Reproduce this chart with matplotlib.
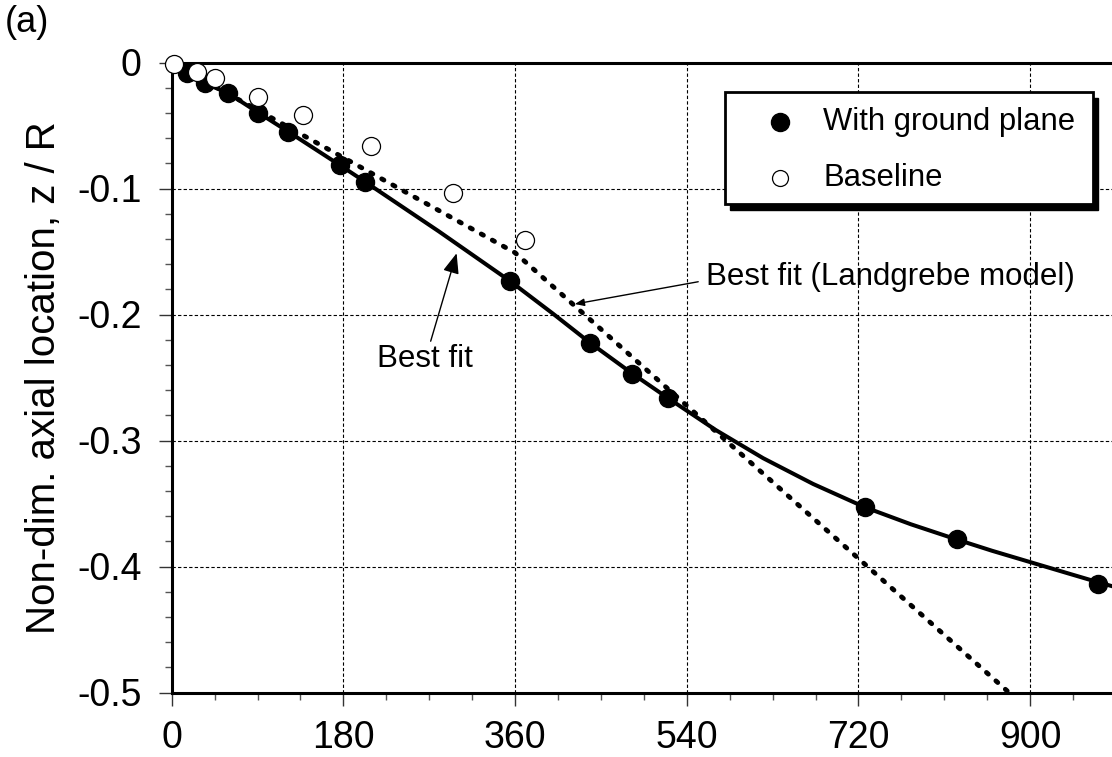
import matplotlib
matplotlib.use("Agg")
import matplotlib.pyplot as plt
from matplotlib.patches import Rectangle
from matplotlib.ticker import MultipleLocator

plt.rcParams['font.family'] = ['Liberation Sans', 'DejaVu Sans']

# measured tip vortex axial location vs wake age
ground_x = [15.7, 34.9, 59.3, 90.8, 122.2, 176.4, 202.6, 354.6, 438.5, 482.2, 520.6, 726.8, 822.8, 971.3]
ground_y = [-0.0086, -0.0165, -0.0244, -0.0398, -0.0549, -0.0815, -0.0946, -0.1734, -0.2224, -0.2472,
            -0.2665, -0.353, -0.378, -0.414]

base_x = [2.4, 26.2, 45.4, 90.1, 137.3, 208.6, 295.2, 370.3]
base_y = [-0.0014, -0.0078, -0.0125, -0.0271, -0.0417, -0.0663, -0.1033, -0.1409]

# curve fits
fit_x = [0, 15.7, 34.9, 59.3, 90.8, 122.2, 176.4, 202.6, 280, 354.6, 400, 438.5, 482.2, 520.6, 570,
         620, 672.5, 726.8, 775, 822.8, 860, 900, 940, 971.3, 990]
fit_y = [0, -0.0086, -0.0165, -0.0244, -0.0398, -0.0549, -0.0815, -0.0946, -0.134, -0.1734, -0.1995,
         -0.2224, -0.2465, -0.2665, -0.2915, -0.3140, -0.3345, -0.3530, -0.3665, -0.3785, -0.3875,
         -0.3965, -0.4055, -0.4125, -0.4165]

land_x = [0, 360, 880]
land_y = [0, -0.151, -0.5015]

x_ticks = [0, 180, 360, 540, 720, 900]
y_ticks = [0, -0.1, -0.2, -0.3, -0.4, -0.5]

W, H = 1112, 757
fig = plt.figure(figsize=(W / 100, H / 100), dpi=100)
ax = fig.add_axes([171.7 / W, 1 - 692.5 / H, (1116 - 171.7) / W, 630 / H])

ax.plot(fit_x, fit_y, color='black', lw=2.9, solid_capstyle='round', solid_joinstyle='round', zorder=3)
ax.plot(land_x, land_y, color='black', lw=3.5, linestyle=(0, (0.5, 2.1)),
        dash_capstyle='round', zorder=3)
ax.plot(ground_x, ground_y, 'o', color='black', ms=13, zorder=4, clip_on=False)
ax.plot(base_x, base_y, 'o', mfc='white', mec='black', mew=0.9, ms=13, zorder=5, clip_on=False)

ax.set_xlim(0, 990)
ax.set_ylim(-0.5, 0)
ax.set_xticks(x_ticks)
ax.set_yticks(y_ticks)
ax.set_yticklabels(['0', '-0.1', '-0.2', '-0.3', '-0.4', '-0.5'])
ax.xaxis.set_minor_locator(MultipleLocator(45))
ax.yaxis.set_minor_locator(MultipleLocator(0.02))
ax.tick_params(which='major', direction='out', length=9.5, width=1.0, color='#333333',
               labelsize=27, pad=10)
ax.tick_params(which='minor', direction='out', length=5, width=1.0, color='#555555')
ax.tick_params(axis='y', which='major', pad=12)

ax.grid(True, which='major', color='black', lw=0.8, linestyle=(0, (3, 2)))
for side in ['top', 'bottom', 'left', 'right']:
    ax.spines[side].set_linewidth(2.2)
    ax.spines[side].set_color('black')
ax.set_axisbelow(True)

fig.text(44 / W, 1 - 377.5 / H, 'Non-dim. axial location, z / R', rotation=90,
         ha='center', va='center', fontsize=29)
fig.text(5 / W, 1 - 5 / H, '(a)', ha='left', va='top', fontsize=26)

# annotations
head = '-|>,head_length=0.55,head_width=0.22'
ax.annotate('Best fit', xy=(298.7, -0.1514), xytext=(266, -0.2234),
            ha='center', va='top', fontsize=22.5,
            arrowprops=dict(arrowstyle=head, color='black', lw=1.0, shrinkA=0, shrinkB=0))
ax.annotate('', xy=(422.7, -0.1917), xytext=(552, -0.174),
            arrowprops=dict(arrowstyle=head, color='black', lw=1.0, shrinkA=0, shrinkB=0))
ax.text(560.2, -0.1702, 'Best fit (Landgrebe model)', ha='left', va='center', fontsize=22.5)

# legend box with drop shadow
bx0, by0, bx1, by1 = 725, 91.7, 1093.3, 204
fig.patches.append(Rectangle(((bx0 + 5) / W, 1 - (by1 + 6) / H), (bx1 - bx0) / W, (by1 - by0) / H,
                             transform=fig.transFigure, facecolor='black', edgecolor='black',
                             zorder=10))
fig.patches.append(Rectangle((bx0 / W, 1 - by1 / H), (bx1 - bx0) / W, (by1 - by0) / H,
                             transform=fig.transFigure, facecolor='white', edgecolor='black',
                             lw=2.0, zorder=11))
fig.lines.append(plt.Line2D([780 / W], [1 - 121.7 / H], marker='o', color='black', ms=13,
                            transform=fig.transFigure, zorder=12))
fig.lines.append(plt.Line2D([780 / W], [1 - 178.3 / H], marker='o', mfc='white', mec='black',
                            mew=0.9, ms=11.5, transform=fig.transFigure, zorder=12))
fig.text(823 / W, 1 - 121.7 / H, 'With ground plane', ha='left', va='center', fontsize=22.3, zorder=12)
fig.text(823 / W, 1 - 178.3 / H, 'Baseline', ha='left', va='center', fontsize=22.3, zorder=12)

fig.savefig('out.png', dpi=100)
